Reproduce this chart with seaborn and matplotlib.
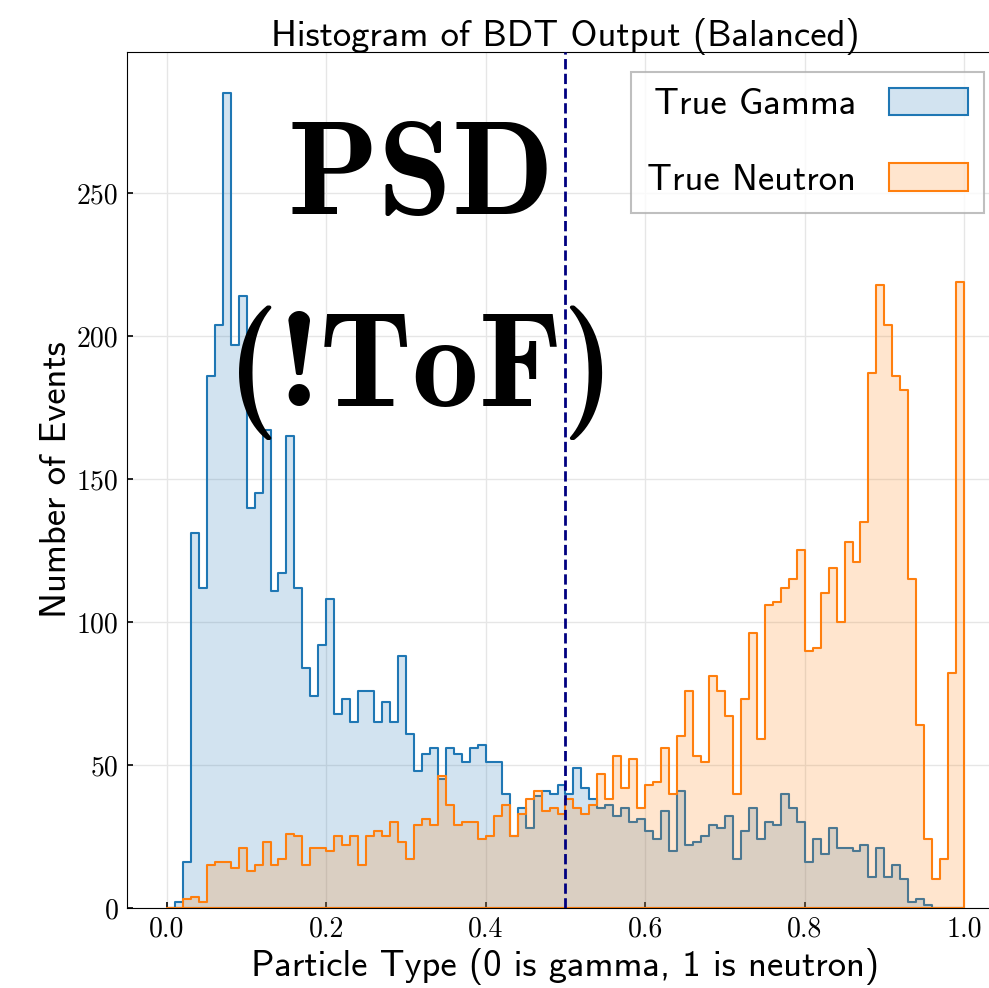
import numpy as np
import pandas as pd
import matplotlib
matplotlib.use("Agg")
import matplotlib.pyplot as plt
import seaborn as sns

# BDT score bins: 100 bins of width 0.01 on [0, 1], given by their centres
bin_width = 0.01
score_centers = np.round(np.arange(100) * bin_width + bin_width / 2, 3)

# events per bin, true gammas
gamma_counts = [
    0, 2, 16, 131, 112, 186, 204, 285, 197, 214,
    140, 145, 167, 111, 117, 165, 112, 84, 74, 92,
    108, 68, 73, 65, 76, 76, 65, 72, 65, 88,
    61, 48, 54, 56, 45, 56, 54, 51, 56, 57,
    51, 51, 40, 25, 35, 28, 39, 41, 40, 43,
    40, 49, 42, 38, 35, 36, 32, 35, 30, 31,
    27, 24, 34, 20, 41, 22, 23, 25, 29, 28,
    32, 17, 27, 35, 24, 30, 29, 40, 35, 30,
    16, 24, 19, 28, 21, 21, 20, 22, 11, 21,
    11, 15, 10, 2, 3, 1, 0, 0, 0, 0,
]

# events per bin, true neutrons
neutron_counts = [
    0, 0, 3, 4, 2, 15, 16, 16, 14, 21,
    13, 15, 23, 15, 17, 26, 25, 15, 21, 21,
    20, 25, 22, 25, 15, 25, 27, 25, 30, 23,
    17, 29, 31, 29, 46, 36, 29, 30, 30, 24,
    25, 32, 36, 25, 33, 38, 41, 34, 35, 33,
    38, 35, 33, 36, 47, 38, 53, 42, 52, 35,
    43, 44, 56, 40, 60, 76, 53, 51, 81, 76,
    67, 40, 73, 96, 59, 106, 107, 112, 115, 125,
    90, 91, 110, 119, 100, 128, 121, 135, 187, 218,
    204, 186, 181, 115, 64, 24, 10, 17, 82, 219,
]

x_ticks = [0.0, 0.2, 0.4, 0.6, 0.8, 1.0]
x_tick_labels = ["0.0", "0.2", "0.4", "0.6", "0.8", "1.0"]
y_ticks = [0, 50, 100, 150, 200, 250]
y_tick_labels = ["0", "50", "100", "150", "200", "250"]
cut_value = 0.5

df = pd.DataFrame({
    "score": score_centers,
    "gamma": gamma_counts,
    "neutron": neutron_counts,
})

sns.set_style("whitegrid", {
    "grid.color": "#e6e6e6",
    "axes.edgecolor": "black",
    "axes.linewidth": 1.5,
    "text.color": "black",
    "axes.labelcolor": "black",
    "xtick.color": "black",
    "ytick.color": "black",
})
plt.rcParams["font.family"] = ["cmss10", "DejaVu Sans"]
plt.rcParams["axes.unicode_minus"] = False
plt.rcParams["text.color"] = "black"

label_size = 26.4

fig = plt.figure(figsize=(9.89, 9.88), dpi=100)
ax = fig.add_axes([127 / 989, 80 / 988, 877 / 989, 856 / 988])

sns.histplot(data=df, x="score", weights="gamma",
             binwidth=bin_width, binrange=(0, 1),
             element="step", fill=True, alpha=0.2, color="#1f77b4",
             linewidth=1.5, label="True Gamma", ax=ax)
sns.histplot(data=df, x="score", weights="neutron",
             binwidth=bin_width, binrange=(0, 1),
             element="step", fill=True, alpha=0.2, color="#ff7f0e",
             linewidth=1.5, label="True Neutron", ax=ax)

ax.axvline(cut_value, color="navy", linestyle="--", linewidth=2.0, zorder=5)

ax.set_xlim(-0.05, 1.05)
ax.set_ylim(0, 299.3)
ax.set_xticks(x_ticks)
ax.set_xticklabels(x_tick_labels)
ax.set_yticks(y_ticks)
ax.set_yticklabels(y_tick_labels)
ax.tick_params(direction="in", length=4, width=1.2, labelsize=20,
               pad=6, bottom=True, left=True, top=False, right=False,
               colors="black")
for lab in ax.get_xticklabels() + ax.get_yticklabels():
    lab.set_fontfamily("cmr10")
ax.grid(True, color="#e6e6e6", linewidth=1.0)

ax.set_title("Histogram of BDT Output (Balanced)", fontsize=label_size,
             pad=4, color="black")
ax.set_xlabel("Particle Type (0 is gamma, 1 is neutron)", fontsize=label_size,
              labelpad=4, color="black")
ax.set_ylabel("Number of Events", fontsize=label_size, labelpad=3,
              color="black")

ax.text(0.335, 0.586, "PSD\n(!ToF)", transform=ax.transAxes,
        ha="center", va="baseline", multialignment="center",
        family="cmb10", fontsize=96, linespacing=1.66, color="black",
        zorder=6)

leg = ax.legend(loc="upper right", fontsize=label_size, markerfirst=False,
                fancybox=False, frameon=True, labelspacing=1.15,
                handlelength=2.15, handleheight=0.76,
                handletextpad=0.9, borderpad=0.44, borderaxespad=0.54)
leg.get_frame().set_edgecolor("#b0b0b0")
leg.get_frame().set_linewidth(1.5)
for t in leg.get_texts():
    t.set_color("black")

fig.savefig("out.png", dpi=100)
